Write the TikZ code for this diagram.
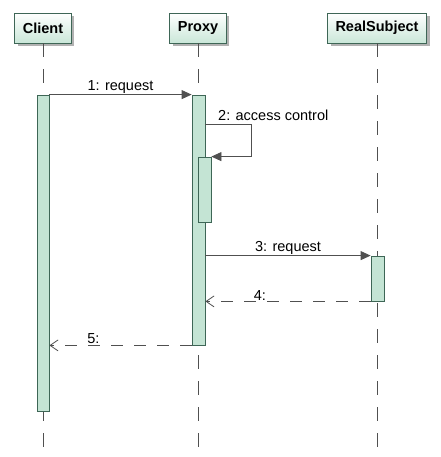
\documentclass[tikz,border=0pt]{standalone}
\usepackage{fontspec}
\setmainfont{Liberation Sans}
\usetikzlibrary{arrows.meta}
\usetikzlibrary{shadows}
\definecolor{barfill}{HTML}{C4E4D4}
\definecolor{barline}{HTML}{3E6656}
\definecolor{msgline}{HTML}{505050}

\begin{document}
\begin{tikzpicture}[x=1pt,y=-1pt]
\tikzstyle{header} = [draw=barline,line width=0.8pt,top color=white,bottom color=barfill!90,minimum height=30pt,inner xsep=8pt,font=\bfseries\fontsize{14.5}{17}\selectfont,drop shadow={shadow xshift=3pt,shadow yshift=-3pt,fill=black!30,opacity=1}]
\tikzstyle{bar} = [draw=barline,fill=barfill,line width=0.8pt,inner sep=0pt]
\tikzstyle{lifeline} = [draw=msgline,line width=0.9pt,dash pattern=on 14pt off 12pt]
\tikzstyle{call} = [draw=msgline,line width=0.8pt,-{Triangle[length=10pt,width=9pt]}]
\tikzstyle{reply} = [draw=msgline,line width=0.8pt,dash pattern=on 12pt off 11pt,-{Straight Barb[length=8pt,width=11pt]}]
\tikzstyle{msglabel} = [font=\fontsize{14.5}{17}\selectfont,inner sep=1pt]
\useasboundingbox (0,0) rectangle (440,457);
\fill[white] (0,0) rectangle (440,457);
% objects
\node[header] (client) at (43,28) {Client};
\node[header] (proxy) at (198,28) {Proxy};
\node[header] (real) at (377,28) {RealSubject};
\coordinate (bottom) at (0,457);
\draw[lifeline] (client) -- (client |- bottom);
\draw[lifeline] (proxy) -- (proxy |- bottom);
\draw[lifeline] (real) -- (real |- bottom);
% activations
\node[bar,minimum width=12pt,minimum height=316pt] (cbar) at (43,253) {};
\node[bar,minimum width=13pt,minimum height=250pt] (pbar) at (198.5,220) {};
\node[bar,minimum width=13pt,minimum height=65pt] (pbar2) at (204.5,189.5) {};
\node[bar,minimum width=13pt,minimum height=45pt] (rbar) at (377.5,278.5) {};
% messages
\draw[call] (cbar.north east) -- node[msglabel,above] {1: request} (pbar.north west);
\coordinate (selfturn) at (251,124);
\draw[call] (pbar.east |- selfturn) -- (selfturn) |- (pbar2.north east);
\node[msglabel,anchor=base west] (access) at (217,121) {2: access control};
\draw[call] (pbar.east |- rbar.north) -- node[msglabel,above] {3: request} (rbar.north west);
\draw[reply] (rbar.south west) -- node[msglabel,above,pos=0.67] {4:} (pbar.east |- rbar.south);
\draw[reply] (pbar.south west) -- node[msglabel,above,pos=0.69] {5:} (cbar.east |- pbar.south);
\end{tikzpicture}
\end{document}
